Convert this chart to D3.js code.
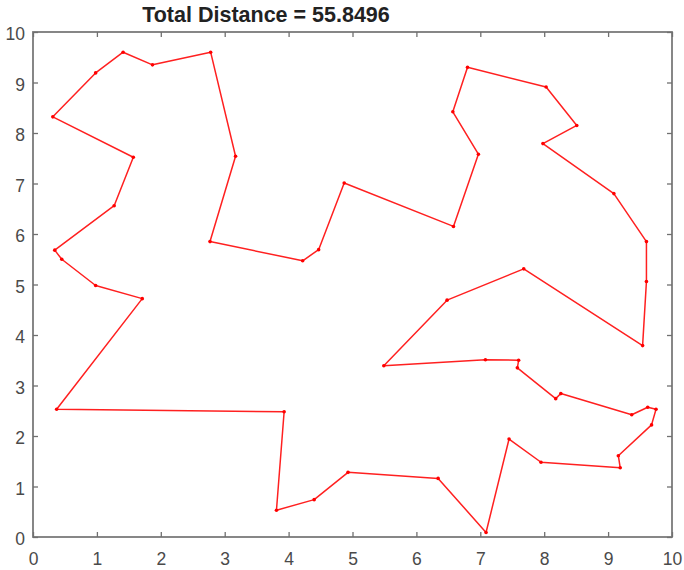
<!DOCTYPE html>
<meta charset="utf-8">
<script src="https://d3js.org/d3.v7.min.js"></script>
<style>
  body { margin: 0; background: #fff; }
  text { font-family: "Liberation Sans", Arial, sans-serif; }
</style>
<div id="my_dataviz"></div>
<script>

// tour order (closed loop)
var tourX = [0.37, 3.93, 3.81, 4.40, 4.93, 6.34, 7.09, 7.45, 7.95, 9.19, 9.16, 9.68, 9.75, 9.62, 9.37,
             8.26, 8.18, 7.58, 7.60, 7.08, 5.49, 6.48, 7.68, 9.54, 9.60, 9.60, 9.09, 7.98, 8.51, 8.03,
             6.80, 6.57, 6.97, 6.58, 4.87, 4.47, 4.22, 2.77, 3.17, 2.78, 1.87, 1.41, 0.98, 0.31, 1.57,
             1.27, 0.34, 0.45, 0.98, 1.71];
var tourY = [2.53, 2.48, 0.53, 0.74, 1.28, 1.16, 0.09, 1.94, 1.48, 1.37, 1.61, 2.22, 2.53, 2.57, 2.42,
             2.84, 2.74, 3.35, 3.50, 3.51, 3.39, 4.69, 5.31, 3.79, 5.06, 5.85, 6.80, 7.79, 8.15, 8.91,
             9.30, 8.42, 7.58, 6.15, 7.01, 5.69, 5.47, 5.85, 7.54, 9.60, 9.35, 9.60, 9.19, 8.32, 7.52,
             6.56, 5.68, 5.50, 4.98, 4.72];
var tickValues = [0, 1, 2, 3, 4, 5, 6, 7, 8, 9, 10];
var titleText = "Total Distance = 55.8496";

var margin = {top: 32, right: 12, bottom: 33, left: 33},
    width = 684 - margin.left - margin.right,
    height = 570 - margin.top - margin.bottom;

var x = d3.scaleLinear().domain([0, 10]).range([0, width]);
var y = d3.scaleLinear().domain([0, 10]).range([height, 0]);

var svg = d3.select("#my_dataviz").append("svg")
    .attr("width", 684)
    .attr("height", 570)
  .append("g")
    .attr("transform", "translate(" + margin.left + "," + margin.top + ")");

var axisColor = "#4a4a4a";

// box
svg.append("rect")
    .attr("x", 0).attr("y", 0)
    .attr("width", width).attr("height", height)
    .attr("fill", "none")
    .attr("stroke", "#7a7a7a")
    .attr("stroke-width", 1.8);

// inward ticks on all four sides
function styleAxis(g) {
  g.select(".domain").remove();
  g.selectAll(".tick line").attr("stroke", "#707070").attr("stroke-width", 1.3);
  g.selectAll(".tick text")
    .attr("fill", axisColor)
    .style("font-size", "17.5px");
}

svg.append("g")
    .attr("transform", "translate(0," + height + ")")
    .call(d3.axisBottom(x).tickValues(tickValues).tickSizeInner(-5).tickPadding(16).tickFormat(d3.format("d")))
    .call(styleAxis);

svg.append("g")
    .call(d3.axisLeft(y).tickValues(tickValues).tickSizeInner(-5).tickPadding(8).tickFormat(d3.format("d")))
    .call(styleAxis)
    .selectAll(".tick text").attr("dy", "0.45em");

svg.append("g")
    .call(d3.axisTop(x).tickValues(tickValues).tickSizeInner(-5).tickFormat(""))
    .call(styleAxis);

svg.append("g")
    .attr("transform", "translate(" + width + ",0)")
    .call(d3.axisRight(y).tickValues(tickValues).tickSizeInner(-5).tickFormat(""))
    .call(styleAxis);

// tour
var pts = tourX.map(function(d, i) { return [d, tourY[i]]; });

svg.append("path")
    .datum(pts)
    .attr("fill", "none")
    .attr("stroke", "#ff2020")
    .attr("stroke-width", 1.5)
    .attr("stroke-linejoin", "round")
    .attr("d", d3.line().x(function(d) { return x(d[0]); }).y(function(d) { return y(d[1]); }).curve(d3.curveLinearClosed));

svg.selectAll("circle.city")
    .data(pts)
  .enter().append("circle")
    .attr("class", "city")
    .attr("cx", function(d) { return x(d[0]); })
    .attr("cy", function(d) { return y(d[1]); })
    .attr("r", 1.8)
    .attr("fill", "#ff0000");

// title (sits left of the plot centre in the reference)
svg.append("text")
    .attr("x", 266 - margin.left)
    .attr("y", 22 - margin.top)
    .attr("text-anchor", "middle")
    .style("font-size", "21.5px")
    .style("font-weight", "bold")
    .attr("fill", "#222")
    .text(titleText);

</script>
